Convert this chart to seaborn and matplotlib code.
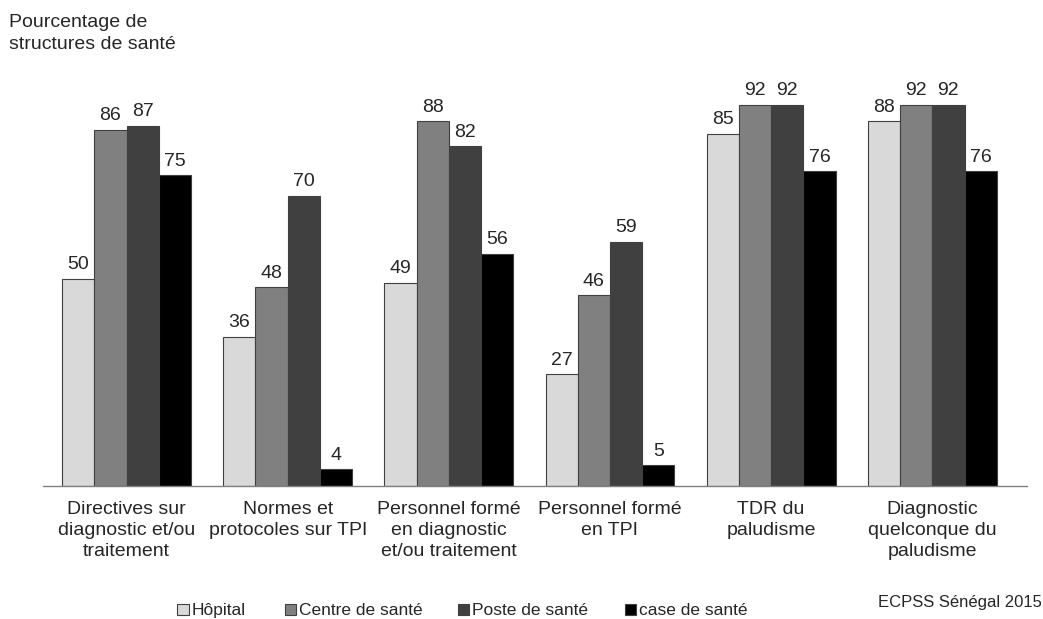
import pandas as pd
import matplotlib.pyplot as plt
import seaborn as sns
from matplotlib.patches import Patch

categories = [
    "Directives sur\ndiagnostic et/ou\ntraitement",
    "Normes et\nprotocoles sur TPI",
    "Personnel formé\nen diagnostic\net/ou traitement",
    "Personnel formé\nen TPI",
    "TDR du\npaludisme",
    "Diagnostic\nquelconque du\npaludisme",
]
structures = ["Hôpital", "Centre de santé", "Poste de santé", "case de santé"]
hopital = [50, 36, 49, 27, 85, 88]
centre = [86, 48, 88, 46, 92, 92]
poste = [87, 70, 82, 59, 92, 92]
case = [75, 4, 56, 5, 76, 76]
colors = ["#d9d9d9", "#808080", "#404040", "#000000"]

rows = []
for name, vals in zip(structures, [hopital, centre, poste, case]):
    for cat, v in zip(categories, vals):
        rows.append({"cat": cat, "structure": name, "value": v})
df = pd.DataFrame(rows)

sns.set_style("white")
plt.rcParams['font.family'] = ['Liberation Sans', 'DejaVu Sans']

fig = plt.figure(figsize=(10.43, 6.19), dpi=100)
ax = fig.add_axes([0.041, 0.215, 0.944, 0.669])
sns.barplot(data=df, x="cat", y="value", hue="structure", hue_order=structures,
            palette=colors, width=0.8, edgecolor="#404040", linewidth=0.8,
            legend=False, ax=ax)
for cont in ax.containers:
    ax.bar_label(cont, padding=4, fontsize=14)

ax.set_ylim(0, 100)
ax.set_xlim(-0.52, 5.59)
ax.set_xlabel("")
ax.set_ylabel("")
ax.set_yticks([])
ax.tick_params(axis="x", length=0, pad=11, labelsize=14)
for lbl in ax.get_xticklabels():
    lbl.set_linespacing(1.3)
for s in ["top", "right", "left"]:
    ax.spines[s].set_visible(False)
ax.spines["bottom"].set_color("#808080")
ax.spines["bottom"].set_linewidth(1)

fig.text(0.009, 0.978, "Pourcentage de\nstructures de santé", fontsize=14,
         va="top", ha="left", linespacing=1.4)
fig.text(0.999, 0.026, "ECPSS Sénégal 2015", fontsize=12, ha="right", va="center")

# legend entries are unevenly spaced in the original, so place each one
xs = [0.170, 0.273, 0.439, 0.599]
for c, name, x in zip(colors, structures, xs):
    h = Patch(facecolor=c, edgecolor="#404040", linewidth=0.8)
    fig.legend([h], [name], loc="center left", bbox_to_anchor=(x, 0.013),
               frameon=False, fontsize=12.5, handlelength=0.65, handleheight=0.65,
               handletextpad=0.15, borderpad=0, borderaxespad=0)

fig.savefig("out.png", dpi=100)
